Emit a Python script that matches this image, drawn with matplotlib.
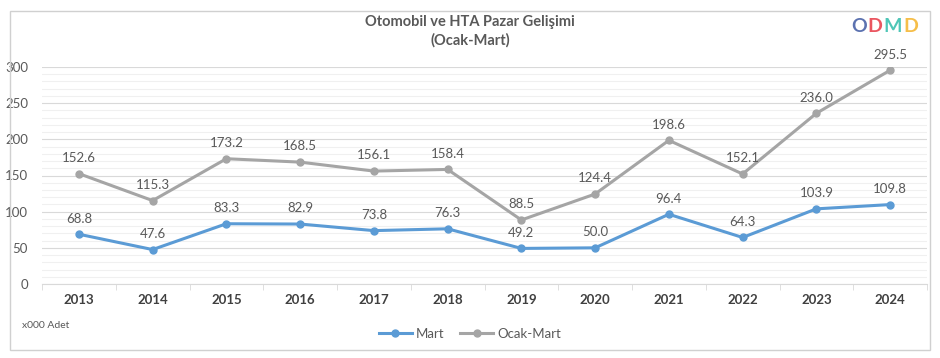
import matplotlib
matplotlib.use("Agg")
import matplotlib.pyplot as plt
from matplotlib.patches import Rectangle
from matplotlib.ticker import MultipleLocator, FixedLocator

years = ["2013", "2014", "2015", "2016", "2017", "2018", "2019", "2020", "2021", "2022", "2023", "2024"]
mart = [68.8, 47.6, 83.3, 82.9, 73.8, 76.3, 49.2, 50.0, 96.4, 64.3, 103.9, 109.8]
ocak_mart = [152.6, 115.3, 173.2, 168.5, 156.1, 158.4, 88.5, 124.4, 198.6, 152.1, 236.0, 295.5]
yticks = [0, 50, 100, 150, 200, 250, 300]

plt.rcParams['font.family'] = ['Lato', 'DejaVu Sans']
W, H = 940, 358
fig = plt.figure(figsize=(W / 100, H / 100), dpi=100)

# outer frame
fig.patches.append(Rectangle((10 / W, 1 - 350 / H), 920 / W, 339 / H, transform=fig.transFigure,
                             fill=False, edgecolor="#D0D0D0", linewidth=1.0))

ax = fig.add_axes([42 / W, 1 - 284 / H, 885 / W, 217 / H])
x = list(range(len(years)))
blue = "#5B9BD5"
gray = "#A5A5A5"
ax.plot(x, mart, color=blue, linewidth=2.2, marker="o", markersize=5, label="Mart", zorder=3)
ax.plot(x, ocak_mart, color=gray, linewidth=2.2, marker="o", markersize=5, label="Ocak-Mart", zorder=3)

for xi, v in zip(x, mart):
    ax.annotate(f"{v:.1f}", (xi, v), xytext=(0, 7), textcoords="offset points", ha="center",
                va="bottom", fontsize=9.5, color="#595959")
for xi, v in zip(x, ocak_mart):
    ax.annotate(f"{v:.1f}", (xi, v), xytext=(0, 7), textcoords="offset points", ha="center",
                va="bottom", fontsize=9.5, color="#595959")

ax.set_xlim(-0.5, len(years) - 0.5)
ax.set_ylim(0, 300)
ax.set_yticks(yticks)
ax.yaxis.set_minor_locator(MultipleLocator(10))
ax.grid(which="major", axis="y", color="#D9D9D9", linewidth=0.8)
ax.grid(which="minor", axis="y", color="#F0F0F0", linewidth=0.8)
ax.set_axisbelow(True)
for s in ["top", "right", "left"]:
    ax.spines[s].set_visible(False)
ax.spines["bottom"].set_color("#D9D9D9")
ax.tick_params(axis="y", which="both", length=0, labelsize=9.5, labelcolor="#595959", pad=10)

ax.set_xticks(x)
ax.set_xticklabels(years, fontsize=9.5, fontweight="bold", color="#404040")
ax.tick_params(axis="x", which="major", length=0, pad=7)
ax.xaxis.set_minor_locator(FixedLocator([i + 0.5 for i in range(-1, len(years))]))
ax.tick_params(axis="x", which="minor", length=4, color="#D9D9D9", direction="out")

fig.text(470 / W, 1 - 22 / H, "Otomobil ve HTA Pazar Gelişimi", ha="center", va="center",
         fontsize=10.5, fontweight="bold", color="#595959")
fig.text(470 / W, 1 - 40 / H, "(Ocak-Mart)", ha="center", va="center",
         fontsize=10.5, fontweight="bold", color="#595959")

fig.text(22 / W, 1 - 325 / H, "x000 Adet", ha="left", va="center", fontsize=7.5, color="#595959")

leg = fig.legend(loc="center", bbox_to_anchor=(470 / W, 1 - 334 / H), ncol=2, frameon=False,
                 fontsize=9.5, handlelength=2.5, columnspacing=1.2, handletextpad=0.3)
for t in leg.get_texts():
    t.set_color("#595959")

# logo
logo_letters = ["O", "D", "M", "D"]
logo_colors = ["#4A63A8", "#E8434F", "#3CC0B0", "#F5B735"]
lx = [859, 875, 893, 911]
for ch, c, px in zip(logo_letters, logo_colors, lx):
    fig.text(px / W, 1 - 27 / H, ch, ha="center", va="center", fontsize=14, fontweight="bold",
             color=c, alpha=0.9)

fig.savefig("out.png", dpi=100)
